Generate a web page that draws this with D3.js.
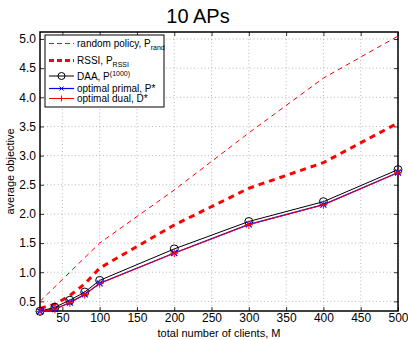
<!DOCTYPE html>
<html><head><meta charset="utf-8">
<script src="https://cdn.jsdelivr.net/npm/d3@7"></script>
<style>body{margin:0;background:#fff;} text{font-family:"Liberation Sans",Arial,sans-serif;}</style>
</head><body>
<svg id="c" width="408" height="340"></svg>
<script>
const clients = [20, 40, 60, 80, 100, 200, 300, 400, 500];
const randomPolicy = [0.5, 0.75, 1.0, 1.25, 1.5, 2.41, 3.39, 4.33, 5.05];
const rssi = [0.38, 0.45, 0.6, 0.8, 1.07, 1.81, 2.44, 2.88, 3.56];
const daa = [0.33, 0.4, 0.52, 0.66, 0.86, 1.4, 1.87, 2.21, 2.76];
const primal = [0.33, 0.37, 0.48, 0.62, 0.81, 1.33, 1.82, 2.16, 2.71];
const dual = [0.325, 0.365, 0.475, 0.615, 0.805, 1.325, 1.815, 2.155, 2.705];
const xTicks = [50, 100, 150, 200, 250, 300, 350, 400, 450, 500];
const yTicks = [0.5, 1, 1.5, 2, 2.5, 3, 3.5, 4, 4.5, 5];

const svg = d3.select("#c");
const L = 40, R = 398, T = 32, B = 311;
const x = d3.scaleLinear().domain([20, 500]).range([L, R]);
const y = d3.scaleLinear().domain([0.335, 5.12]).range([B, T]);

// grid
const g = svg.append("g");
g.selectAll(".gx").data(xTicks).enter().append("line")
  .attr("x1", d => x(d)).attr("x2", d => x(d)).attr("y1", T).attr("y2", B)
  .attr("stroke", "#999").attr("stroke-width", 0.7).attr("stroke-dasharray", "1,2.5");
g.selectAll(".gy").data(yTicks).enter().append("line")
  .attr("y1", d => y(d)).attr("y2", d => y(d)).attr("x1", L).attr("x2", R)
  .attr("stroke", "#999").attr("stroke-width", 0.7).attr("stroke-dasharray", "1,2.5");

// axes
const ax = svg.append("g").attr("transform", `translate(0,${B})`)
  .call(d3.axisBottom(x).tickValues(xTicks).tickSizeInner(-4).tickSizeOuter(0).tickPadding(2));
const axT = svg.append("g").attr("transform", `translate(0,${T})`)
  .call(d3.axisTop(x).tickValues(xTicks).tickSizeInner(-4).tickSizeOuter(0).tickFormat(""));
const ay = svg.append("g").attr("transform", `translate(${L},0)`)
  .call(d3.axisLeft(y).tickValues(yTicks).tickSizeInner(-4).tickSizeOuter(0).tickPadding(4));
const ayR = svg.append("g").attr("transform", `translate(${R},0)`)
  .call(d3.axisRight(y).tickValues(yTicks).tickSizeInner(-4).tickSizeOuter(0).tickFormat(""));
[ax, axT, ay, ayR].forEach(a => {
  a.select(".domain").remove();
  a.selectAll("line").attr("stroke", "#000").attr("stroke-width", 0.8);
  a.selectAll("text").attr("font-size", 12).attr("fill", "#000").style("font-family", "Liberation Sans, Arial, sans-serif");
});
svg.append("rect").attr("x", L).attr("y", T).attr("width", R - L).attr("height", B - T)
  .attr("fill", "none").attr("stroke", "#000").attr("stroke-width", 1.5);

const line = vals => d3.line().x((d, i) => x(clients[i])).y(d => y(d))(vals);
const pg = svg.append("g");

pg.append("path").attr("d", line(randomPolicy)).attr("fill", "none")
  .attr("stroke", "#ff0000").attr("stroke-width", 1).attr("stroke-dasharray", "5,4");
pg.append("path").attr("d", line(rssi)).attr("fill", "none")
  .attr("stroke", "#ff0000").attr("stroke-width", 3).attr("stroke-dasharray", "6,5");
pg.append("path").attr("d", line(daa)).attr("fill", "none").attr("stroke", "#000").attr("stroke-width", 1);
pg.selectAll(".c").data(daa).enter().append("circle")
  .attr("cx", (d, i) => x(clients[i])).attr("cy", d => y(d)).attr("r", 4)
  .attr("fill", "none").attr("stroke", "#000").attr("stroke-width", 1);
pg.append("path").attr("d", line(primal)).attr("fill", "none").attr("stroke", "#0000ff").attr("stroke-width", 1.2);
pg.selectAll(".xm").data(primal).enter().append("path")
  .attr("d", (d, i) => { const cx = x(clients[i]), cy = y(d), s = 3; return `M${cx-s},${cy-s}L${cx+s},${cy+s}M${cx-s},${cy+s}L${cx+s},${cy-s}`; })
  .attr("stroke", "#0000ff").attr("stroke-width", 1.2);
pg.append("path").attr("d", line(dual)).attr("fill", "none").attr("stroke", "#ff0000").attr("stroke-width", 1);
pg.selectAll(".pm").data(dual).enter().append("path")
  .attr("d", (d, i) => { const cx = x(clients[i]), cy = y(d), s = 4; return `M${cx-s},${cy}L${cx+s},${cy}M${cx},${cy-s}L${cx},${cy+s}`; })
  .attr("stroke", "#ff0000").attr("stroke-width", 1);

// legend
const lg = svg.append("g");
lg.append("rect").attr("x", 45).attr("y", 35).attr("width", 119).attr("height", 72)
  .attr("fill", "#fff").attr("stroke", "#000").attr("stroke-width", 1);
const lx1 = 49, lx2 = 74, tx = 77;
const rows = [43.5, 60.5, 76, 88.5, 98.5];
lg.append("line").attr("x1", lx1).attr("x2", lx2).attr("y1", rows[0]).attr("y2", rows[0])
  .attr("stroke", "#ff0000").attr("stroke-width", 1).attr("stroke-dasharray", "5,3");
lg.append("line").attr("x1", lx1).attr("x2", lx2).attr("y1", rows[1]).attr("y2", rows[1])
  .attr("stroke", "#ff0000").attr("stroke-width", 3).attr("stroke-dasharray", "5,3");
lg.append("line").attr("x1", lx1).attr("x2", lx2).attr("y1", rows[2]).attr("y2", rows[2]).attr("stroke", "#000");
lg.append("circle").attr("cx", (lx1 + lx2) / 2).attr("cy", rows[2]).attr("r", 3.5).attr("fill", "none").attr("stroke", "#000");
lg.append("line").attr("x1", lx1).attr("x2", lx2).attr("y1", rows[3]).attr("y2", rows[3]).attr("stroke", "#0000ff").attr("stroke-width", 1.2);
lg.append("path").attr("d", `M${(lx1+lx2)/2-2},${rows[3]-2}L${(lx1+lx2)/2+2},${rows[3]+2}M${(lx1+lx2)/2-2},${rows[3]+2}L${(lx1+lx2)/2+2},${rows[3]-2}`).attr("stroke", "#0000ff");
lg.append("line").attr("x1", lx1).attr("x2", lx2).attr("y1", rows[4]).attr("y2", rows[4]).attr("stroke", "#ff0000");
lg.append("path").attr("d", `M${(lx1+lx2)/2},${rows[4]-3}L${(lx1+lx2)/2},${rows[4]+3}`).attr("stroke", "#ff0000");

function ltext(yy, main, sub, sup) {
  const t = lg.append("text").attr("x", tx).attr("y", yy + 3.5).attr("font-size", 10).attr("fill", "#000");
  t.append("tspan").text(main);
  if (sub) t.append("tspan").attr("dy", 3).attr("font-size", 7).text(sub);
  if (sup) t.append("tspan").attr("dy", -4).attr("font-size", 7).text(sup);
}
ltext(rows[0], "random policy, P", "rand");
ltext(rows[1], "RSSI, P", "RSSI");
ltext(rows[2], "DAA, P", null, "(1000)");
ltext(rows[3], "optimal primal, P*");
ltext(rows[4], "optimal dual, D*");

// titles
svg.append("text").attr("x", 198).attr("y", 23).attr("text-anchor", "middle")
  .attr("font-size", 20).attr("fill", "#000").text("10 APs");
svg.append("text").attr("x", (L + R) / 2).attr("y", 337).attr("text-anchor", "middle")
  .attr("font-size", 11).attr("fill", "#000").text("total number of clients, M");
svg.append("text").attr("transform", `translate(14,${(T + B) / 2}) rotate(-90)`).attr("text-anchor", "middle")
  .attr("font-size", 11).attr("fill", "#000").text("average objective");
</script>
</body></html>
